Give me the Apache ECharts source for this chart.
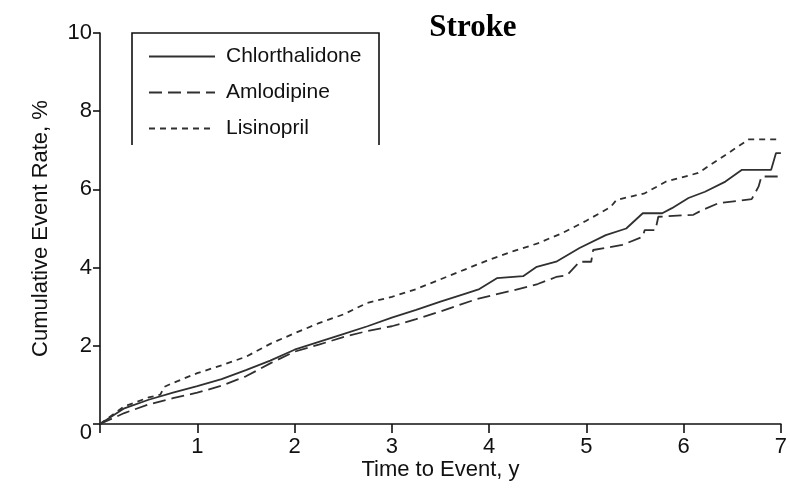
<!DOCTYPE html>
<html><head><meta charset="utf-8">
<script src="https://cdn.jsdelivr.net/npm/echarts@6/dist/echarts.min.js"></script>
<style>html,body{margin:0;padding:0;background:#fff}#c{width:790px;height:492px}</style>
</head><body><div id="c"></div>
<script>
var seriesNames = ['Chlorthalidone', 'Amlodipine', 'Lisinopril'];
var legendLabels = ['Chlorthalidone', 'Amlodipine', 'Lisinopril'];
var xTicks = [0, 1, 2, 3, 4, 5, 6, 7];
var yTicks = [0, 2, 4, 6, 8, 10];

var chlorT = [0,0.25,0.5,0.75,1.0,1.25,1.5,1.75,2.0,2.25,2.5,2.75,3.0,3.25,3.5,3.75,3.9,4.08,4.35,4.49,4.69,4.93,5.2,5.41,5.58,5.78,5.88,6.05,6.22,6.43,6.6,6.9,6.95,7.0];
var chlorV = [0,0.4,0.62,0.8,0.97,1.15,1.38,1.62,1.9,2.1,2.3,2.5,2.72,2.92,3.13,3.33,3.45,3.73,3.78,4.02,4.15,4.5,4.83,5.0,5.39,5.39,5.52,5.78,5.94,6.2,6.5,6.5,6.93,6.93];

var amloT = [0,0.25,0.5,0.75,1.0,1.25,1.5,1.75,2.0,2.25,2.5,2.75,3.0,3.25,3.5,3.88,4.25,4.5,4.69,4.8,4.93,5.05,5.07,5.37,5.58,5.6,5.71,5.74,6.1,6.19,6.36,6.7,6.77,6.8,7.0];
var amloV = [0,0.28,0.5,0.66,0.8,0.98,1.22,1.55,1.85,2.03,2.22,2.38,2.5,2.68,2.88,3.2,3.42,3.58,3.76,3.8,4.15,4.15,4.45,4.58,4.79,4.96,4.96,5.3,5.35,5.47,5.65,5.75,6.07,6.33,6.33];

var lisiT = [0,0.25,0.5,0.62,0.66,0.75,1.0,1.25,1.5,1.75,2.0,2.25,2.5,2.75,3.0,3.25,3.5,3.75,4.0,4.25,4.5,4.75,5.0,5.25,5.31,5.6,5.82,6.15,6.43,6.67,7.0];
var lisiV = [0,0.45,0.68,0.75,0.95,1.05,1.3,1.5,1.72,2.05,2.32,2.58,2.8,3.1,3.25,3.45,3.7,3.95,4.2,4.42,4.62,4.88,5.2,5.55,5.73,5.9,6.2,6.42,6.88,7.28,7.28];

function zip(t, v) { return t.map(function (x, i) { return [x, v[i]]; }); }

var FONT = '"Liberation Sans", Arial, Helvetica, sans-serif';
var chart = echarts.init(document.getElementById('c'), null, {renderer: 'canvas'});
var lineCol = '#303030';
var dashes = ['solid', [13, 6], [6, 5]];
var datasets = [zip(chlorT, chlorV), zip(amloT, amloV), zip(lisiT, lisiV)];

chart.setOption({
  animation: false,
  backgroundColor: '#fff',
  title: {
    text: 'Stroke', left: 468, top: 7, textAlign: 'center',
    textStyle: {fontFamily: '"Liberation Serif", "Times New Roman", serif', fontWeight: 'bold', fontSize: 31, color: '#000'}
  },
  grid: {left: 100, right: 4, top: 33, bottom: 68},
  legend: {
    orient: 'vertical', left: 148, top: 46, padding: 0, itemWidth: 66, itemHeight: 14, itemGap: 15,
    data: seriesNames,
    itemStyle: {opacity: 0, borderWidth: 0},
    formatter: function (n) { return legendLabels[seriesNames.indexOf(n)]; },
    textStyle: {fontFamily: FONT, fontSize: 21, color: '#111', padding: [0, 0, 0, 6]}
  },
  graphic: [{
    type: 'polyline', z: 10,
    shape: {points: [[132, 145], [132, 33], [379, 33], [379, 145]]},
    style: {stroke: '#111', lineWidth: 1.6, fill: null}
  }],
  xAxis: {
    type: 'value', min: 0, max: 7, interval: 1,
    name: 'Time to Event, y', nameLocation: 'middle', nameGap: 35, nameMoveOverlap: false,
    nameTextStyle: {fontFamily: FONT, fontSize: 22, color: '#111'},
    axisLine: {onZero: false, lineStyle: {color: '#111', width: 1.6}},
    axisTick: {length: 9, lineStyle: {color: '#111', width: 1.6}},
    axisLabel: {fontFamily: FONT, fontSize: 22, color: '#111', margin: 12,
      formatter: function (v) { return v === 0 ? '' : String(xTicks[v]); }},
    splitLine: {show: false}
  },
  yAxis: {
    type: 'value', min: 0, max: 10, interval: 2,
    name: 'Cumulative Event Rate, %', nameLocation: 'middle', nameGap: 48, nameMoveOverlap: false,
    nameTextStyle: {fontFamily: FONT, fontSize: 22, color: '#111'},
    axisLine: {show: true, lineStyle: {color: '#111', width: 1.6}},
    axisTick: {show: true, length: 7, lineStyle: {color: '#111', width: 1.6}},
    axisLabel: {fontFamily: FONT, fontSize: 22, color: '#111', margin: 8,
      formatter: function (v) { return v === 0 ? '{z|0}' : String(yTicks[v / 2]); },
      rich: {z: {fontFamily: FONT, fontSize: 22, color: '#111', padding: [18, 0, 0, 0]}}},
    splitLine: {show: false}
  },
  series: seriesNames.map(function (n, i) {
    return {
      name: n, type: 'line', data: datasets[i], symbol: 'none', showSymbol: false,
      lineStyle: {color: lineCol, width: 1.8, type: dashes[i]},
      itemStyle: {color: lineCol}
    };
  })
});
</script></body></html>
